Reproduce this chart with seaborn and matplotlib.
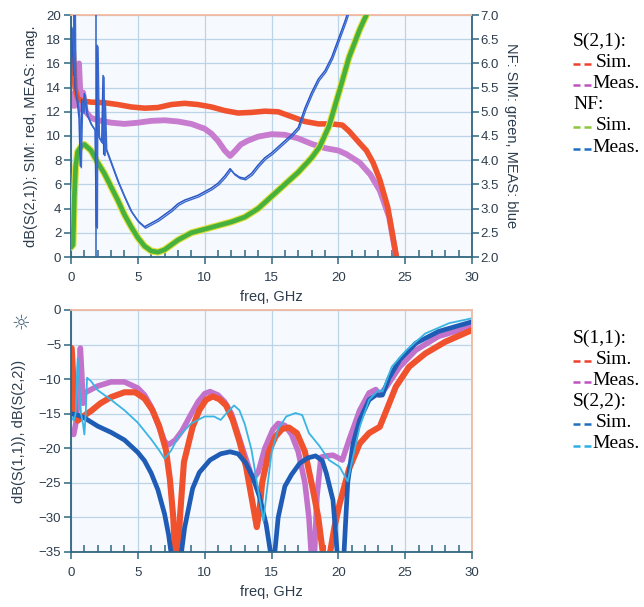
import numpy as np
import pandas as pd
import matplotlib
matplotlib.use("Agg")
import matplotlib.pyplot as plt
import matplotlib.transforms as mtransforms
from matplotlib.lines import Line2D
from matplotlib.ticker import MultipleLocator, FormatStrFormatter
import seaborn as sns

# ---------------- data: gain and noise figure (top panel) ----------------
s21_sim_f = [0.05, 0.15, 0.3, 0.5, 0.8, 1.5, 2.5, 3.5, 4.5, 5.5, 6.5, 7.5, 8.5, 9.5,
             10.5, 11.5, 12.5, 13.5, 14.5, 15.5, 16.5, 17.5, 18.5, 19.5, 20.3, 20.8,
             21.6, 22.1, 22.6, 23.1, 23.7, 24.3, 24.5]
s21_sim_db = [18.5, 17.5, 14.0, 13.1, 12.9, 12.8, 12.75, 12.6, 12.4, 12.3, 12.35, 12.6,
              12.7, 12.6, 12.4, 12.1, 11.9, 11.95, 12.05, 12.0, 11.6, 11.2, 11.0, 11.0,
              10.9, 10.4, 9.4, 8.8, 7.8, 6.4, 4.1, 0.3, -1.0]

s21_meas_f = [0.05, 0.15, 0.3, 0.45, 0.6, 0.75, 0.9, 1.1, 1.5, 2, 3, 4, 5, 6, 7, 8, 9,
              10, 10.5, 11, 11.5, 11.9, 12.3, 12.7, 13.2, 14, 15, 16, 17, 18, 19, 20,
              20.6, 21.6, 22.4, 23.1, 23.8, 24.3, 24.5]
s21_meas_db = [13.5, 12.5, 12.5, 14.0, 16.0, 12.2, 13.6, 12.0, 11.5, 11.3, 11.1, 11.0,
               11.1, 11.25, 11.3, 11.2, 11.0, 10.6, 10.2, 9.6, 8.8, 8.35, 8.8, 9.3, 9.6,
               9.95, 10.15, 10.1, 9.8, 9.35, 9.0, 8.8, 8.5, 7.8, 6.8, 5.5, 3.3, 0.2, -1.0]

nf_sim_f = [0.0, 0.15, 0.25, 0.35, 0.5, 0.8, 1.0, 1.5, 2.0, 2.5, 3.0, 3.5, 4.0, 4.5,
            5.0, 5.5, 6.0, 6.5, 7.0, 7.5, 8.0, 9.0, 10, 11, 12, 13, 14, 15, 16, 17, 18,
            18.6, 19.3, 20.1, 20.8, 21.6, 22.1, 22.4]
nf_sim_db = [2.2, 2.25, 3.25, 3.875, 4.175, 4.3, 4.325, 4.2, 3.95, 3.725, 3.45, 3.175,
             2.875, 2.625, 2.4, 2.225, 2.125, 2.1, 2.15, 2.25, 2.35, 2.5, 2.575, 2.65,
             2.725, 2.825, 3.0, 3.25, 3.5, 3.75, 4.05, 4.275, 4.7, 5.45, 6.125, 6.7,
             7.0, 7.25]

nf_meas_f = [0.05, 0.2, 0.25, 0.3, 0.45, 0.6, 0.7, 0.8, 0.9, 1.0, 1.2, 1.5, 1.8, 1.9,
             1.95, 2.05, 2.3, 2.4, 2.45, 2.5, 2.6, 3.0, 3.5, 4.0, 4.5, 5.0, 5.5, 6.0,
             6.5, 7.0, 7.5, 8.0, 8.5, 9.0, 9.5, 10, 10.5, 11, 11.5, 11.9, 12.2, 12.6,
             13, 13.5, 14, 14.5, 15, 15.5, 16, 16.5, 17, 17.5, 18, 18.5, 19, 19.5, 20,
             20.5, 20.8]
nf_meas_db = [6.75, 5.75, 7.25, 5.5, 5.25, 4.875, 3.875, 5.25, 5.0, 5.375, 4.95, 4.75,
              4.625, 2.625, 6.375, 4.5, 4.375, 5.75, 4.125, 5.25, 4.25, 3.95, 3.575,
              3.25, 2.95, 2.75, 2.625, 2.7, 2.775, 2.875, 2.975, 3.1, 3.175, 3.225,
              3.275, 3.35, 3.425, 3.525, 3.675, 3.825, 3.725, 3.65, 3.625, 3.725, 3.9,
              4.05, 4.15, 4.275, 4.4, 4.525, 4.675, 5.075, 5.4, 5.675, 5.85, 6.125, 6.5,
              6.875, 7.125]
nf_marker_freq = 1.87

# ---------------- data: input / output match (bottom panel) ----------------
s11_sim_f = [0.05, 0.15, 0.3, 0.5, 0.9, 1.5, 2.2, 3, 4, 4.8, 5.5, 6.1, 6.6, 7.1, 7.4,
             7.65, 7.8, 8.0, 8.15, 8.45, 9.1, 9.6, 10.1, 10.6, 11.1, 11.6, 12.1, 12.6,
             13.1, 13.5, 13.9, 14.1, 14.3, 14.8, 15.3, 15.8, 16.3, 16.9, 17.5, 18.1,
             18.5, 18.9, 19.3, 19.7, 20.1, 20.8, 21.6, 22.3, 23.1, 23.6, 24.3, 25.3,
             26.5, 28, 30]
s11_sim_db = [-5.5, -9, -15, -16, -15.4, -14.6, -13.5, -12.6, -11.9, -11.9, -12.8,
              -14.5, -16.8, -20.2, -24.5, -30, -36, -36, -30, -22, -16.9, -14.5, -13,
              -12.5, -12.9, -13.8, -15.9, -19, -22.7, -27, -31.4, -29, -25, -20.5,
              -18.3, -17.2, -17, -17.8, -20.5, -26, -30, -36, -36, -31.5, -28, -23,
              -19.3, -17.8, -16.9, -14.5, -11.1, -8.2, -6.3, -4.6, -2.9]

s11_meas_f = [0.05, 0.2, 0.4, 0.55, 0.7, 0.8, 0.9, 1.0, 1.5, 2, 3, 4, 5, 5.5, 6, 6.5,
              7, 7.3, 7.8, 8.3, 9, 9.5, 10, 10.4, 11, 11.5, 12, 12.5, 13, 13.6, 14,
              14.5, 15.1, 15.5, 16, 16.5, 17, 17.5, 17.8, 18.0, 18.2, 18.4, 18.7, 19.1,
              19.6, 20.3, 20.8, 21.6, 22.3, 22.8, 23.1, 23.6, 24.6, 25.8, 27.5, 30]
s11_meas_db = [-17.5, -18, -16, -12, -5.5, -9, -13.5, -12, -11.5, -11, -10.4, -10.4,
               -11.3, -12.3, -14, -16.5, -19, -19.5, -18.8, -17.5, -15, -13.3, -12.1,
               -11.8, -12.3, -13.3, -15, -18, -21, -24.5, -23.5, -20, -17.3, -16.4,
               -16.7, -18, -20.5, -25, -30, -36, -36, -27, -21.3, -21.1, -21, -21.7,
               -18.8, -14.5, -12, -11.5, -12.3, -11.1, -8.2, -5.8, -3.8, -2.4]

s22_sim_f = [0, 0.5, 1, 2, 3, 4, 5, 5.5, 6, 6.5, 7, 7.3, 7.55, 8.2, 8.5, 9.1, 9.6,
             10.4, 11.2, 11.9, 12.5, 13.1, 13.6, 14.1, 14.6, 15.0, 15.2, 15.5, 16,
             16.5, 17.1, 17.7, 18.3, 18.8, 19.1, 19.6, 19.95, 20.4, 20.7, 21.1, 21.6,
             22.3, 22.8, 23.3, 23.8, 24.6, 25.8, 27.5, 30]
s22_sim_db = [-15, -15.2, -15.6, -16.8, -17.7, -18.8, -20.6, -21.8, -23.6, -26, -29.5,
              -32.5, -36, -36, -31.5, -25.8, -23.5, -21.7, -20.8, -20.5, -20.8, -22.2,
              -24.2, -27, -31, -36, -36, -30, -25.5, -23.8, -22.2, -21.4, -21.1, -21.8,
              -23.6, -27.5, -36, -36, -25, -19.3, -15.9, -13, -12.3, -12.3, -9.8, -7.2,
              -4.8, -3.1, -1.7]

s22_meas_f = [0.05, 0.2, 0.35, 0.5, 0.6, 0.75, 0.9, 1.0, 1.1, 1.2, 1.5, 2, 3, 4, 5, 6,
              6.6, 7, 7.5, 8, 9, 10, 10.7, 11.2, 11.6, 12.2, 12.6, 13.0, 13.5, 14.0,
              14.4, 14.6, 15.0, 15.5, 16.1, 16.8, 17.3, 17.8, 18.6, 19.3, 20.1, 20.7,
              21.1, 21.6, 22.3, 23.0, 23.3, 24, 25.1, 26.5, 28.3, 30]
s22_meas_db = [-15.5, -16, -15, -7, -10, -15, -16.5, -18, -15, -9.8, -10.3, -11.6, -13,
               -14.5, -16.3, -18.7, -20.3, -21.5, -20.3, -18.4, -16.4, -15.4, -15.4,
               -15.9, -15, -13.8, -14.5, -16.5, -20.2, -26, -30.5, -27, -20.7, -17.2,
               -15.4, -14.9, -15.2, -17.8, -19.7, -21.7, -22.7, -24.8, -21.2, -16.9, -13,
               -11.6, -11.8, -8.2, -5.8, -3.4, -1.9, -1.2]

# ---------------- legend text ----------------
top_legend = [("S(2,1):", None), ("Sim.", "#f0402c"), ("Meas.", "#c052c0"),
              ("NF:", None), ("Sim.", "#8cc63f"), ("Meas.", "#1f6fc0")]
bottom_legend = [("S(1,1):", None), ("Sim.", "#f0402c"), ("Meas.", "#c052c0"),
                 ("S(2,2):", None), ("Sim.", "#1f6fc0"), ("Meas.", "#30aee6")]

# ---------------- style ----------------
sns.set_style("white")
plt.rcParams["font.family"] = ["Liberation Sans", "DejaVu Sans"]

SPINE = "#2f6680"
PEACH = "#f1b9a0"
GRID = "#bcd4e8"
TXT = "#2d3d4d"
FACE = "#f6f9fd"

W, H = 644, 607
fig = plt.figure(figsize=(W / 100, H / 100), dpi=100)
ax_top = fig.add_axes([71 / W, 1 - 257 / H, 401 / W, 242 / H])
ax_bot = fig.add_axes([71 / W, 1 - 552 / H, 401 / W, 242 / H])


def style_axes(ax, right_dark):
    ax.set_facecolor(FACE)
    ax.set_xlim(0, 30)
    ax.xaxis.set_major_locator(MultipleLocator(5))
    ax.xaxis.set_minor_locator(MultipleLocator(1))
    ax.grid(True, which="major", color=GRID, lw=0.9)
    ax.set_axisbelow(True)
    for side in ("left", "bottom"):
        ax.spines[side].set_color(SPINE)
        ax.spines[side].set_linewidth(1.3)
    ax.spines["top"].set_color(PEACH)
    ax.spines["top"].set_linewidth(1.3)
    ax.spines["right"].set_color(SPINE if right_dark else PEACH)
    ax.spines["right"].set_linewidth(1.3)
    ax.tick_params(axis="x", which="major", direction="out", length=5, width=1.1,
                   color=SPINE, labelsize=9.5, labelcolor=TXT, pad=6, bottom=True)
    ax.tick_params(axis="x", which="minor", direction="in", length=5, width=1.1,
                   color=SPINE, bottom=True)
    ax.tick_params(axis="y", which="major", direction="out", length=5, width=1.1,
                   color=SPINE, labelsize=9.5, labelcolor=TXT, pad=2, left=True)
    ax.set_xlabel("freq, GHz", fontsize=10.5, color=TXT, labelpad=4)


def draw(ax, f, v, color, lw, **kw):
    sns.lineplot(x=f, y=v, ax=ax, color=color, linewidth=lw, estimator=None,
                 sort=False, legend=False, **kw)


# ---------------- top panel ----------------
style_axes(ax_top, right_dark=True)
ax_top.set_ylim(0, 20)
ax_top.yaxis.set_major_locator(MultipleLocator(2))
ax_top.set_ylabel("dB(S(2,1)); SIM: red, MEAS: mag.", fontsize=10.5, color=TXT, labelpad=6)

ax_nf = ax_top.twinx()
ax_nf.set_ylim(2, 7)
ax_nf.yaxis.set_major_locator(MultipleLocator(0.5))
ax_nf.yaxis.set_major_formatter(FormatStrFormatter("%.1f"))
ax_nf.tick_params(axis="y", direction="out", length=5, width=1.1, color=SPINE,
                  labelsize=9.5, labelcolor=TXT, pad=1)
for s in ax_nf.spines.values():
    s.set_visible(False)
ax_nf.set_ylabel("NF: SIM: green, MEAS: blue", fontsize=10.5, color=TXT,
                 rotation=270, labelpad=14)

draw(ax_top, s21_meas_f, s21_meas_db, "#c87ccf", 4.2)
draw(ax_top, s21_sim_f, s21_sim_db, "#f0522e", 4.0)
draw(ax_nf, nf_sim_f, nf_sim_db, "#e2e03c", 5.0)
draw(ax_nf, nf_sim_f, nf_sim_db, "#46b13d", 3.4)
ax_nf.axvline(nf_marker_freq, color="#2a62c4", lw=1.1)
draw(ax_nf, nf_meas_f, nf_meas_db, "#2a56c6", 1.1)
shift = mtransforms.offset_copy(ax_nf.transData, fig=fig, x=1.0, y=-1.5, units="dots")
sns.lineplot(x=nf_meas_f, y=nf_meas_db, ax=ax_nf, color="#3a6ad0", linewidth=1.0,
             estimator=None, sort=False, legend=False, transform=shift)

# ---------------- bottom panel ----------------
style_axes(ax_bot, right_dark=False)
ax_bot.set_ylim(-35, 0)
ax_bot.yaxis.set_major_locator(MultipleLocator(5))
ax_bot.set_ylabel("dB(S(1,1)), dB(S(2,2))", fontsize=10.5, color=TXT, labelpad=9)

draw(ax_bot, s11_meas_f, s11_meas_db, "#c272cb", 4.0)
draw(ax_bot, s11_sim_f, s11_sim_db, "#f0522e", 4.4)
draw(ax_bot, s22_sim_f, s22_sim_db, "#1f5cb5", 3.4)
draw(ax_bot, s22_meas_f, s22_meas_db, "#3ab4e2", 1.3)

fig.text(21 / W, 1 - 323 / H, "\u263c", fontsize=15, color="#4d6b80",
         ha="center", va="center", family="DejaVu Sans")


# ---------------- legends (serif text, coloured dash pairs) ----------------
def legend_block(rows, y0):
    for i, (label, color) in enumerate(rows):
        ypx = y0 + i * 21.2
        y = 1 - ypx / H
        if color is None:
            fig.text(573 / W, y, label, fontsize=14, color="black", va="center",
                     ha="left", family="Liberation Serif")
            continue
        ydash = 1 - (ypx + 1.5) / H
        for x0 in (573, 584):
            fig.add_artist(Line2D([x0 / W, (x0 + 7) / W], [ydash, ydash],
                                  transform=fig.transFigure, color=color, lw=1.8,
                                  solid_capstyle="butt"))
        xt = 596 if label == "Sim." else 592
        fig.text(xt / W, y, label, fontsize=14, color="black", va="center",
                 ha="left", family="Liberation Serif")


legend_block(top_legend, 41)
legend_block(bottom_legend, 338)

fig.savefig("out.png", dpi=100, facecolor="white")
